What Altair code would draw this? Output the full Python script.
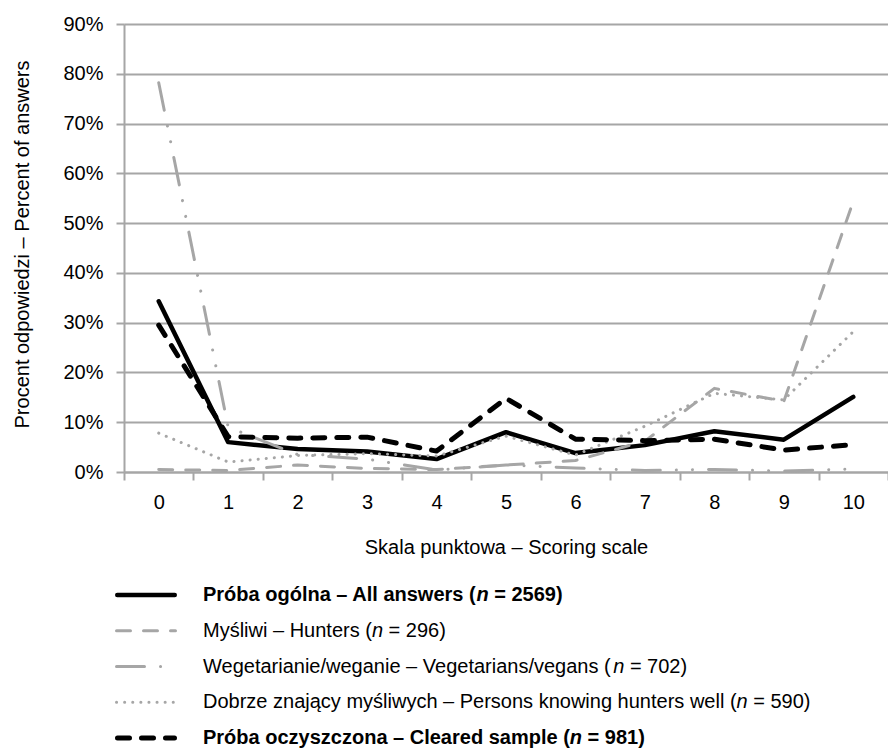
import altair as alt
import pandas as pd

# ---------------- data (percent of answers) ----------------
scores = ["0", "1", "2", "3", "4", "5", "6", "7", "8", "9", "10"]
all_answers = [34.3, 6.0, 4.6, 4.1, 2.6, 8.0, 3.8, 5.4, 8.2, 6.5, 15.1]
hunters = [0.5, 0.3, 1.4, 0.7, 0.5, 1.4, 2.3, 6.2, 16.8, 14.2, 54.4]
vegetarians = [78.2, 9.0, 3.5, 2.6, 0.4, 1.4, 0.8, 0.3, 0.5, 0.2, 0.6]
knowing_hunters = [7.8, 2.0, 3.3, 3.7, 3.2, 7.2, 3.4, 9.2, 15.8, 14.5, 28.2]
cleared = [29.5, 7.1, 6.8, 7.0, 4.2, 14.8, 6.6, 6.3, 6.6, 4.4, 5.5]
y_ticks = [0.0, 0.1, 0.2, 0.3, 0.4, 0.5, 0.6, 0.7, 0.8, 0.9]

# legend label parts: (prefix, italic n, suffix, bold)
legend_labels = [
    ("Próba ogólna – All answers (", "n", "= 2569)", True),
    ("Myśliwi – Hunters (", "n", "= 296)", False),
    ("Wegetarianie/weganie – Vegetarians/vegans (", "n", "= 702)", False),
    ("Dobrze znający myśliwych – Persons knowing hunters well (", "n", "= 590)", False),
    ("Próba oczyszczona – Cleared sample (", "n", "= 981)", True),
]
series_values = [all_answers, hunters, vegetarians, knowing_hunters, cleared]

# ---------------- styles ----------------
FONT = "Liberation Sans"
FS = 20
GRAY = "#a6a6a6"
BLACK = "#000000"
styles = [
    dict(color=BLACK, width=4.5, dash=None),
    dict(color=GRAY, width=3, dash=[14, 13]),
    dict(color=GRAY, width=3, dash=[28, 16, 0.1, 16, 0.1, 16]),
    dict(color=GRAY, width=3, dash=[0.1, 8]),
    dict(color=BLACK, width=5, dash=[12, 12]),
]

W, H = 764, 448

# Arial / Liberation Sans advance widths (1/1000 em)
REG = {' ': 278, '(': 333, ')': 333, '/': 278, '–': 556, '=': 584,
       'M': 833, 'H': 722, 'W': 944, 'V': 667, 'D': 722, 'P': 667,
       'a': 556, 'b': 556, 'c': 500, 'e': 556, 'g': 556, 'h': 556, 'i': 222,
       'j': 222, 'k': 500, 'l': 222, 'm': 833, 'n': 556, 'o': 556, 'r': 333,
       's': 500, 't': 278, 'u': 556, 'w': 722, 'y': 500, 'z': 500,
       'ś': 500, 'ą': 556}
BOLD = {' ': 278, '(': 333, ')': 333, '–': 556, '=': 584,
        'P': 667, 'A': 722, 'C': 722,
        'a': 556, 'b': 611, 'c': 556, 'd': 611, 'e': 556, 'g': 611, 'l': 278,
        'm': 889, 'n': 611, 'o': 611, 'p': 611, 'r': 389, 's': 556, 'w': 778,
        'y': 556, 'z': 500, 'ó': 611}


def text_width(s, bold):
    table = BOLD if bold else REG
    return sum(table.get(c, 556) for c in s) * FS / 1000.0


x_enc = alt.X(
    "score:O",
    sort=scores,
    scale=alt.Scale(domain=scores, paddingInner=0, paddingOuter=0),
    axis=alt.Axis(
        title="Skala punktowa – Scoring scale",
        labelAngle=0, labelFontSize=FS, labelColor=BLACK, labelPadding=12,
        labelFont=FONT,
        tickBand="extent", tickSize=8, tickColor=GRAY, tickWidth=2,
        domainColor=GRAY, domainWidth=2, grid=False,
        titleFontSize=FS, titleFontWeight="normal", titleColor=BLACK,
        titleFont=FONT, titleY=75, titleBaseline="middle",
    ),
)
y_enc = alt.Y(
    "value:Q",
    scale=alt.Scale(domain=[0, 0.9], nice=False),
    axis=alt.Axis(
        values=y_ticks, format=".0%",
        labelFontSize=FS, labelColor=BLACK, labelPadding=13, labelFont=FONT,
        tickSize=8, tickColor=GRAY, tickWidth=2,
        domainColor=GRAY, domainWidth=2,
        grid=True, gridColor=GRAY, gridWidth=2,
        title="Procent odpowiedzi – Percent of answers",
        titleFontSize=FS, titleFontWeight="normal", titleColor=BLACK,
        titleFont=FONT, titleAngle=270, titleX=-102, titleY=220,
        titleAlign="center", titleBaseline="middle",
    ),
)

layers = []
for vals, st in zip(series_values, styles):
    df = pd.DataFrame({"score": scores, "value": [v / 100 for v in vals]})
    mk = dict(stroke=st["color"], strokeWidth=st["width"], strokeCap="round",
              strokeJoin="round", clip=False)
    if st["dash"]:
        mk["strokeDash"] = st["dash"]
    layers.append(alt.Chart(df).mark_line(**mk).encode(x=x_enc, y=y_enc))

# ---------------- custom legend below the plot ----------------
dummy = pd.DataFrame({"k": [0]})
row0, row_step = 571, 35.75
sample_x0, sample_x1 = -9, 53
text_x0 = 79
for i, ((pre, nn, suf, bold), st) in enumerate(zip(legend_labels, styles)):
    ry = row0 + i * row_step
    half = st["width"] / 2
    mk = dict(stroke=st["color"], strokeWidth=st["width"], strokeCap="round")
    if st["dash"]:
        mk["strokeDash"] = st["dash"]
    layers.append(alt.Chart(dummy).mark_rule(**mk).encode(
        x=alt.value(sample_x0 + half), x2=alt.value(sample_x1 - half),
        y=alt.value(ry)))
    weight = "bold" if bold else "normal"
    w_pre = text_width(pre, bold)
    w_n = text_width(nn, bold) + text_width(" ", bold)
    pieces = [(pre, text_x0, "normal"),
              (nn, text_x0 + w_pre, "italic"),
              (suf, text_x0 + w_pre + w_n, "normal")]
    for txt, tx, fstyle in pieces:
        layers.append(alt.Chart(dummy).mark_text(
            align="left", baseline="middle", font=FONT, fontSize=FS,
            fontWeight=weight, fontStyle=fstyle, color=BLACK,
        ).encode(x=alt.value(tx), y=alt.value(ry), text=alt.value(txt)))

chart = alt.layer(*layers).properties(
    width=W, height=H,
    autosize=alt.AutoSizeParams(type="none"),
    padding={"left": 116, "top": 16, "right": 0, "bottom": 276},
).configure_view(stroke=None).configure(font=FONT)

chart.save("out.html", embed_options={"renderer": "svg", "actions": False})
